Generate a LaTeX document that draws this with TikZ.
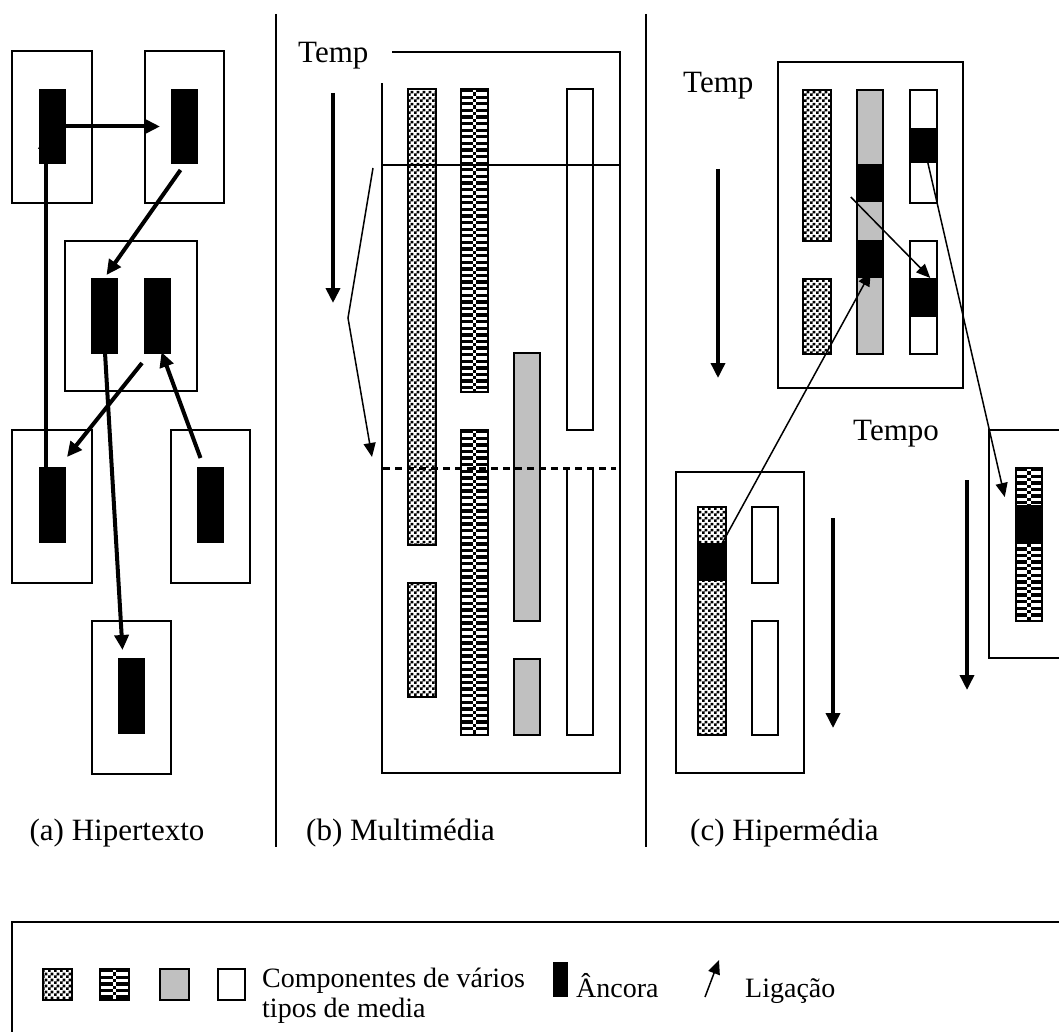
\documentclass[tikz,border=0pt]{standalone}
\usepackage{fontspec}
\setmainfont{Liberation Serif}
\usetikzlibrary{arrows.meta,patterns.meta,fit}

% chequered fill for the first media type
\pgfdeclarepattern{
  name=chequer, type=uncolored,
  bottom left={\pgfpointorigin}, top right={\pgfpoint{6pt}{6pt}},
  tile size={\pgfpoint{6pt}{6pt}},
  code={
    \pgfpathrectangle{\pgfpointorigin}{\pgfpoint{3pt}{3pt}}
    \pgfpathrectangle{\pgfpoint{3pt}{3pt}}{\pgfpoint{3pt}{3pt}}
    \pgfusepath{fill}
  }
}

% horizontal bars with an alternating centre mark, second media type
\newcommand\hstripes{%
  \foreach \k in {0,...,50}{%
    \fill[black] ([yshift=-\k*6.6pt]path picture bounding box.north west) rectangle ++(60pt,-3.3pt);
    \fill[white] ([xshift=-1.6pt,yshift=-\k*6.6pt]path picture bounding box.north) rectangle ++(3.2pt,-3.3pt);
    \fill[black] ([xshift=-1.6pt,yshift=-\k*6.6pt-3.3pt]path picture bounding box.north) rectangle ++(3.2pt,-3.3pt);
  }%
}

\definecolor{mediagray}{HTML}{C0C0C0}
\newcommand\lblfont{\fontsize{31}{36}\selectfont}
\newcommand\keyfont{\fontsize{28}{30}\selectfont}

\tikzset{
  frame/.style={draw, line width=2pt, inner sep=0pt, outer sep=0pt},
  anc/.style={fill=black, inner sep=0pt, outer sep=0pt},
  colbox/.style={draw, line width=2.5pt, inner sep=0pt, outer sep=0pt},
  chk/.style={colbox, pattern=chequer},
  stp/.style={colbox, path picture={\hstripes}},
  gry/.style={colbox, fill=mediagray},
  wht/.style={colbox, fill=white},
  lnk/.style={-{Triangle[length=15pt,width=14pt]}, line width=4pt},
  tarrow/.style={-{Triangle[length=15pt,width=14pt]}, line width=3.5pt},
  thinlnk/.style={-{Triangle[length=14pt,width=12pt]}, line width=1.5pt},
  lbl/.style={font=\lblfont, inner sep=0pt},
  keytext/.style={font=\keyfont, inner sep=0pt},
  sep/.style={line width=1.5pt}
}

\begin{document}
\begin{tikzpicture}[x=1pt, y=-1pt]
\useasboundingbox (0,0) rectangle (1059,1032);
\clip (0,0) rectangle (1059,1032);
\fill[white] (0,0) rectangle (1059,1032);

% ---------- (a) hypertext ----------
\node[frame, fit={(12,51)(92,203)}] (A1) {};
\node[anc, fit={(39,89)(66,164)}] (a1) {};
\node[frame, fit={(145,51)(224,203)}] (A2) {};
\node[anc, fit={(171,89)(198,164)}] (a2) {};
\node[frame, fit={(65,241)(197,391)}] (A3) {};
\node[anc, fit={(91,278)(118,354)}] (a3l) {};
\node[anc, fit={(144,278)(171,354)}] (a3r) {};
\node[frame, fit={(12,430)(92,583)}] (A4) {};
\node[anc, fit={(39,467)(66,543)}] (a4) {};
\node[frame, fit={(171,430)(250,583)}] (A5) {};
\node[anc, fit={(197,467)(224,543)}] (a5) {};
\node[frame, fit={(92,621)(171,774)}] (A6) {};
\node[anc, fit={(118,658)(145,734)}] (a6) {};

\draw[lnk, shorten >=11pt] (a1.east) -- (a2.west);
\draw[lnk] ([xshift=-4pt,yshift=-6pt]a2.south) -- ([xshift=2pt,yshift=3pt]a3l.north);
\draw[lnk] ([xshift=-7pt,yshift=-10pt]a4.north) -- ([xshift=-7pt,yshift=30pt]a1.south);
\draw[lnk] ([xshift=-2pt,yshift=-9pt]a3r.south west) -- ([xshift=1pt,yshift=10pt]a4.north east);
\draw[lnk] ([xshift=-10pt,yshift=9pt]a5.north) -- ([xshift=4pt,yshift=2pt]a3r.south);
\draw[lnk] ([yshift=10pt]a3l.south) -- ([xshift=-9pt,yshift=8pt]a6.north);

\node[lbl, anchor=base] (capa) at (117,840) {(a) Hipertexto};

% separators
\draw[sep] (276,14) -- (276,847);
\draw[sep] (646,14) -- (646,847);

% ---------- (b) multimedia ----------
\node[lbl, anchor=base west] (tb) at (298,63) {Temp};

\node[chk, fit={(408,89)(436,545)}] (b1) {};
\node[chk, fit={(408,583)(436,697)}] (b2) {};
\node[stp, fit={(461,89)(488,392)}] (b3) {};
\node[stp, fit={(461,430)(488,735)}] (b4) {};
\node[gry, fit={(514,353)(540,621)}] (b5) {};
\node[gry, fit={(514,659)(540,735)}] (b6) {};
\node[wht, fit={(567,89)(593,430)}] (b7) {};
\draw[colbox] (567,468) -- (567,735) -- (593,735) -- (593,468);

\draw[frame] (392,52) -- (620,52) -- (620,773) -- (382,773) -- (382,83);
\draw[frame] (382,165) -- (620,165);
\draw[line width=3pt, dash pattern=on 7pt off 5pt] (383,468) -- (616,468);

\coordinate (bt0) at (333,93);
\coordinate (bt1) at (333,303);
\draw[lnk] (bt0) -- (bt1);
\coordinate (bk0) at (373,168);
\coordinate (bk1) at (348,318);
\coordinate (bk2) at (372,457);
\draw[thinlnk] (bk0) -- (bk1) -- (bk2);

\node[lbl, anchor=base west] (capb) at (306,840) {(b) Multimédia};

% ---------- (c) hypermedia ----------
\node[lbl, anchor=base west] (tc) at (683,93) {Temp};
\coordinate (ct0) at (718,169);
\coordinate (ct1) at (718,378);
\draw[tarrow] (ct0) -- (ct1);

\node[frame, fit={(778,62)(963,388)}] (C1) {};
\node[chk, fit={(803,90)(831,241)}] (c1) {};
\node[chk, fit={(803,279)(831,354)}] (c2) {};
\node[gry, fit={(857,90)(883,354)}] (c3) {};
\node[anc, fit={(855.75,164)(884.25,202)}] (c3a) {};
\node[anc, fit={(855.75,240)(884.25,278)}] (c3b) {};
\node[wht, fit={(910,90)(937,203)}] (c4) {};
\node[anc, fit={(908.75,128)(938.25,163)}] (c4a) {};
\node[wht, fit={(910,241)(937,354)}] (c5) {};
\node[anc, fit={(908.75,278)(938.25,317)}] (c5a) {};

\node[frame, fit={(676,472)(804,773)}] (C2) {};
\node[chk, fit={(698,507)(726,735)}] (d1) {};
\node[anc, fit={(696.75,543)(727.25,581)}] (d1a) {};
\node[wht, fit={(752,507)(778,583)}] (d2) {};
\node[wht, fit={(752,621)(778,735)}] (d3) {};
\coordinate (dt0) at (833,518);
\coordinate (dt1) at (833,728);
\draw[tarrow] (dt0) -- (dt1);

\node[lbl, anchor=base west] (tt) at (853,440) {Tempo};
\node[frame, fit={(989,430)(1075,658)}] (C3) {};
\node[stp, fit={(1016,468)(1042,621)}] (e1) {};
\node[anc, fit={(1014.75,505)(1043.25,544)}] (e1a) {};
\coordinate (et0) at (967,480);
\coordinate (et1) at (967,690);
\draw[tarrow] (et0) -- (et1);

% links between the hypermedia components
\draw[thinlnk] ([xshift=-5pt,yshift=5pt]c3a.south west) -- ([xshift=-8pt]c5a.north east);
\draw[thinlnk] ([xshift=18pt,yshift=5pt]c4a.south west) -- ([xshift=-10pt,yshift=8pt]e1a.north west);
\draw[thinlnk] ([xshift=20pt,yshift=-10pt]d1a.north west) -- ([xshift=15pt,yshift=6pt]c3b.south west);

\node[lbl, anchor=base west] (capc) at (690,840) {(c) Hipermédia};

% ---------- legend ----------
\draw[frame] (12,1045) -- (12,922) -- (1075,922) -- (1075,1045);
\node[chk, fit={(43,969)(72,1000)}] (k1) {};
\node[stp, fit={(100,969)(129,1000)}] (k2) {};
\node[gry, fit={(160,969)(189,1000)}] (k3) {};
\node[wht, fit={(218,969)(245,1000)}] (k4) {};
\node[keytext, anchor=base west] (kt1) at (262,987) {Componentes de vários};
\node[keytext, anchor=base west] (kt2) at (262,1017) {tipos de media};
\node[anc, fit={(553,962)(568,997)}] (ka) {};
\node[keytext, anchor=base west] (kat) at (576,997) {Âncora};
\coordinate (kl0) at (705,997);
\coordinate (kl1) at (719,960);
\draw[thinlnk] (kl0) -- (kl1);
\node[keytext, anchor=base west] (klt) at (745,997) {Ligação};
\end{tikzpicture}
\end{document}
